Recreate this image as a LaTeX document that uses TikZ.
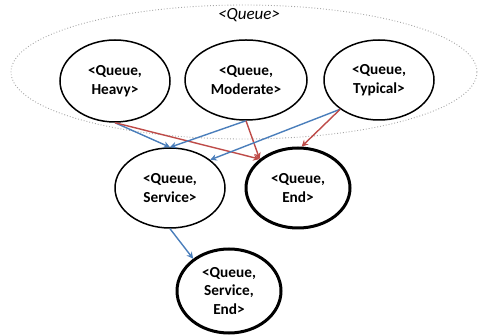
\documentclass[tikz,border=0pt]{standalone}
\usepackage{fontspec}
\setmainfont{Carlito}
\usetikzlibrary{shapes.geometric,arrows.meta}
\definecolor{lnblue}{RGB}{74,126,187}
\definecolor{lnred}{RGB}{190,75,72}
\tikzset{
  state/.style={ellipse, draw=black, line width=1.5pt, fill=white, align=center,
    font=\fontsize{15.3}{18.5}\selectfont\bfseries, inner sep=0pt},
  final/.style={state, line width=3pt},
  groupbox/.style={ellipse, draw=black!35, dotted, line width=0.9pt, inner sep=0pt},
  blu/.style={draw=lnblue, line width=1.4pt, -{Stealth[length=6.5pt,width=6.5pt]}},
  rd/.style={draw=lnred, line width=1.4pt, -{Stealth[length=6.5pt,width=6.5pt]}},
}
\begin{document}
\begin{tikzpicture}[x=1pt,y=1pt]
\useasboundingbox (0,0) rectangle (478,334);
\node[groupbox, minimum width=466, minimum height=134] (grp) at (244,262) {};
\node[font=\fontsize{17}{20}\selectfont\itshape] (glabel) at (249,319) {<Queue>};
\node[state, minimum width=110, minimum height=82] (heavy) at (115,253) {<Queue,\\Heavy>};
\node[state, minimum width=122, minimum height=80] (mod) at (246,254) {<Queue,\\Moderate>};
\node[state, minimum width=110, minimum height=80] (typ) at (379,254) {<Queue,\\Typical>};
\node[state, minimum width=110, minimum height=80] (serv) at (170,146) {<Queue,\\Service>};
\node[final, minimum width=104, minimum height=80] (end) at (298,146) {<Queue,\\End>};
\node[final, minimum width=104, minimum height=84] (se) at (229,43) {<Queue,\\Service,\\End>};
\draw[blu] (heavy.south) -- (serv.north);
\draw[rd] (heavy.south) -- (end.143);
\draw[blu] (mod.south) -- (serv.north);
\draw[rd] (mod.south) -- (end.143);
\draw[blu] (typ.217) -- (serv.35);
\draw[rd] (typ.217) -- (end.85);
\draw[blu] (serv.south) -- (se.138);
\end{tikzpicture}
\end{document}
